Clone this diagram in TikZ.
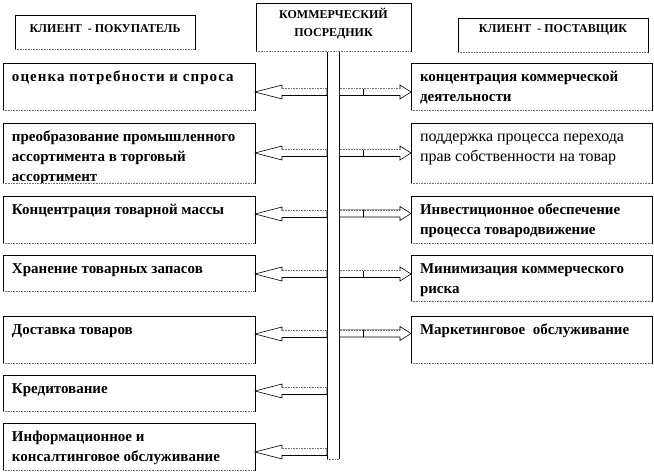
\documentclass[tikz,border=0pt]{standalone}
\usepackage{fontspec}
\setmainfont{Liberation Serif}
\usetikzlibrary{calc}
\definecolor{edge}{RGB}{110,110,110}
% top-aligned text block of a box: width, height, text
\newcommand{\cell}[3]{\parbox[t][#2][t]{#1}{\strut #3}}
% hollow block arrow: tail, tip, head length (signed), y offset
\newcommand{\blockarrow}[4]{%
  \draw[hollow] let \p1=(#2), \p2=(#1) in
    (\x1,\y1+#4pt) -- ++(#3,7) -- ++(0,-3.5) -- (\x2,\y1+#4pt+3.5pt)
    -- (\x2,\y1+#4pt-3.5pt) -- (\x1+#3pt,\y1+#4pt-3.5pt) -- ++(0,-3.5) -- cycle;
  % lighter upper edge of the shaft
  \draw[white, line width=0.8pt] let \p1=(#2), \p2=(#1) in
    (\x2,\y1+#4pt+3.5pt) -- (\x1+#3pt,\y1+#4pt+3.5pt);
  \draw[shadow edge] let \p1=(#2), \p2=(#1) in
    (\x2,\y1+#4pt+3.5pt) -- (\x1+#3pt,\y1+#4pt+3.5pt);}

\begin{document}
\begin{tikzpicture}[x=1pt, y=1pt, line join=miter,
    box/.style={draw, rectangle, anchor=north west, outer sep=0pt,
      inner xsep=9pt, inner ysep=4.5pt, line width=0.6pt,
      font=\fontsize{15}{20}\selectfont\bfseries},
    headbox/.style={box, inner xsep=0pt, font=\fontsize{12}{18}\selectfont\bfseries},
    hollow/.style={draw, fill=white, line width=0.6pt},
    shadow edge/.style={edge, line width=0.6pt, dash pattern=on 0.8pt off 0.8pt}]

  \useasboundingbox (0,0) rectangle (654,-474);

  %========= parameters =========
  \def\lw{234pt}   % text width, left column
  \def\rw{223pt}   % text width, right column

  %========= header boxes =========
  \node[headbox, inner ysep=5pt] (buyer) at (15,-15)
    {\cell{180pt}{24pt}{\centering КЛИЕНТ\ \ - ПОКУПАТЕЛЬ}};
  \node[headbox, inner ysep=3.1pt] (broker) at (256,-3)
    {\cell{155pt}{41.8pt}{\centering КОММЕРЧЕСКИЙ\\ ПОСРЕДНИК}};
  \node[headbox, inner ysep=1.8pt] (supplier) at (458,-18)
    {\cell{190pt}{30.4pt}{\centering КЛИЕНТ\ \ - ПОСТАВЩИК}};

  %========= intermediary bar =========
  \node[draw, fill=white, line width=0.6pt, anchor=north west, inner sep=0pt,
        minimum width=12, minimum height=408] (bar) at (327,-51) {};

  %========= buyer side =========
  \node[box] (l1) at (3,-63)  {\cell{\lw}{38pt}{\addfontfeature{LetterSpace=7}оценка потребности и спроса}};
  \begin{scope}
    \clip (0,-120) rectangle (258,-183.3);
    \node[box] (l2) at (3,-123) {\cell{\lw}{51pt}{преобразование промышленного\\
      ассортимента в торговый\\ ассортимент}};
  \end{scope}
  \node[box] (l3) at (3,-196) {\cell{\lw}{38pt}{Концентрация товарной массы}};
  \node[box] (l4) at (3,-255) {\cell{\lw}{27pt}{Хранение товарных запасов}};
  \node[box] (l5) at (3,-316) {\cell{\lw}{38pt}{Доставка товаров}};
  \node[box] (l6) at (3,-375) {\cell{\lw}{27pt}{Кредитование}};
  \node[box] (l7) at (3,-423) {\cell{\lw}{38pt}{Информационное и\\ консалтинговое обслуживание}};

  %========= supplier side =========
  \node[box] (r1) at (411,-63)  {\cell{\rw}{38pt}{концентрация коммерческой\\ деятельности}};
  \node[box] (r2) at (411,-123) {\cell{\rw}{51pt}{\fontsize{16}{20}\selectfont\mdseries поддержка процесса перехода\\
      прав собственности на товар}};
  \node[box] (r3) at (411,-196) {\cell{\rw}{38pt}{Инвестиционное обеспечение\\ процесса товародвижение}};
  \node[box] (r4) at (411,-255) {\cell{\rw}{37pt}{Минимизация коммерческого\\ риска}};
  \node[box] (r5) at (411,-316) {\cell{\rw}{38pt}{Маркетинговое\ \ обслуживание}};

  %========= arrows =========
  \foreach \b/\dy in {l1/-5.5, l2/0, l3/5.5, l4/-1, l5/5.5, l6/2, l7/-5.5}
    \blockarrow{bar.west}{\b.east}{27}{\dy};
  \foreach \b/\dy in {r1/-5.5, r2/0, r3/6, r4/4, r5/6} {
    \blockarrow{bar.east}{\b.west}{-11}{\dy};
    \draw[line width=0.6pt] ($(bar.east |- \b.west)+(24,\dy+3.5)$) -- ++(0,-7);
  }

  %========= dotted lower edges =========
  \foreach \b in {buyer, broker, supplier, bar, l1, l2, l3, l4, l5, l6, l7, r1, r2, r3, r4, r5} {
    \draw[white, line width=1pt] (\b.south west) -- (\b.south east);
    \draw[shadow edge] (\b.south west) -- (\b.south east);
  }
\end{tikzpicture}
\end{document}
